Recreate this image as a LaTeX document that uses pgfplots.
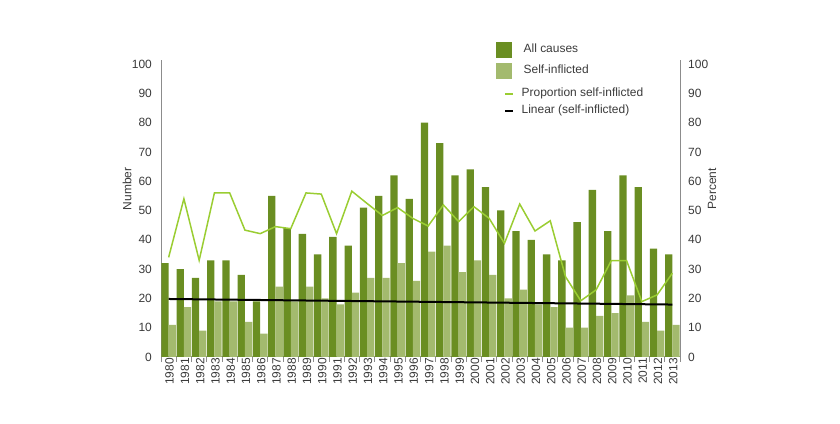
\documentclass[border=0pt]{standalone}
\usepackage{pgfplots}
\pgfplotsset{compat=1.18}
\usepackage{fontspec}
\setmainfont{Liberation Sans}
\definecolor{darkbar}{HTML}{6A8E22}
\definecolor{lightbar}{HTML}{A3BA6E}
\definecolor{propline}{HTML}{9ACD32}
\definecolor{txt}{HTML}{3A3A3A}
\definecolor{axgray}{HTML}{8C8C8C}
\pgfplotsset{
  sqleg/.style={legend image code/.code={\fill[##1] (0bp,-8bp) rectangle (16bp,8bp);}},
  lnlegA/.style={legend image code/.code={\path[draw=none,fill=none] (0bp,-4bp) (0bp,10bp); \draw[##1,line width=1.3bp] (9bp,0bp) -- (17bp,0bp);}},
  lnlegB/.style={legend image code/.code={\path[draw=none,fill=none] (0bp,0bp); \draw[##1,line width=1.3bp] (9bp,0bp) -- (17bp,0bp);}},
}
\begin{document}
\begin{tikzpicture}
\useasboundingbox (0,0) rectangle (840bp,424bp);
\begin{axis}[
  at={(161bp,67bp)}, anchor=south west,
  scale only axis, width=519bp, height=297.4bp,
  xmin=-0.5, xmax=33.5, ymin=0, ymax=101.5,
  axis x line*=bottom, axis y line*=left,
  axis line style={axgray, line width=1bp, -},
  ybar=0pt, bar width=7.3bp,
  xtick={0,...,33},
  xticklabels={1980,1981,1982,1983,1984,1985,1986,1987,1988,1989,1990,1991,1992,1993,1994,1995,1996,1997,1998,1999,2000,2001,2002,2003,2004,2005,2006,2007,2008,2009,2010,2011,2012,2013},
  minor xtick={-0.5,0.5,...,33.5},
  major tick length=0pt, minor tick length=5bp,
  tick align=outside,
  minor tick style={axgray, line width=0.8bp},
  ytick={0,10,...,100}, ytick style={draw=none},
  xticklabel style={rotate=90, anchor=east, font=\fontsize{12}{14}\selectfont, text=txt, inner sep=1bp, yshift=-1bp},
  yticklabel style={font=\fontsize{12}{14}\selectfont, text=txt, inner sep=0pt, xshift=-9bp},
  /pgf/number format/assume math mode=true,
  ylabel={Number},
  ylabel style={at={(axis description cs:-0.0655,0.565)}, anchor=center, rotate=0, font=\fontsize{12}{14}\selectfont, text=txt},
  legend style={at={(axis description cs:0.6455,1.0595)}, anchor=north west, draw=none, fill=none,
    inner sep=0pt, outer sep=0pt, row sep=5bp, font=\fontsize{12}{14}\selectfont, text=txt,
    nodes={inner sep=0pt, text depth=3bp, text height=9bp, text=txt}},
  legend cell align=left,
  clip=false,
]
\addplot[fill=darkbar, draw=none, sqleg] coordinates {
(0,32)(1,30)(2,27)(3,33)(4,33)(5,28)(6,19)(7,55)(8,44)(9,42)(10,35)(11,41)(12,38)(13,51)(14,55)(15,62)(16,54)(17,80)(18,73)(19,62)(20,64)(21,58)(22,50)(23,43)(24,40)(25,35)(26,33)(27,46)(28,57)(29,43)(30,62)(31,58)(32,37)(33,35)};
\addlegendentry{\hspace{10bp}All causes}
\addplot[fill=lightbar, draw=none, sqleg] coordinates {
(0,11)(1,17)(2,9)(3,19)(4,19)(5,12)(6,8)(7,24)(8,19)(9,24)(10,20)(11,18)(12,22)(13,27)(14,27)(15,32)(16,26)(17,36)(18,38)(19,29)(20,33)(21,28)(22,20)(23,23)(24,18)(25,17)(26,10)(27,10)(28,14)(29,15)(30,21)(31,12)(32,9)(33,11)};
\addlegendentry{\hspace{10bp}Self-inflicted}
\addplot[sharp plot, propline, line width=1.5bp, lnlegA] coordinates {
(0,34)(1,54)(2,33)(3,56)(4,56)(5,43.3)(6,42.1)(7,44.5)(8,43.8)(9,56)(10,55.6)(11,42.1)(12,56.6)(13,52.4)(14,48.3)(15,51)(16,47.3)(17,44.7)(18,51.9)(19,46.2)(20,51.3)(21,47.3)(22,38.8)(23,52.2)(24,43)(25,46.5)(26,27.4)(27,19.2)(28,22.9)(29,32.9)(30,32.9)(31,18.9)(32,21.2)(33,28.6)};
\addlegendentry{\hspace{8bp}Proportion self-inflicted}
\addplot[sharp plot, black, line width=2bp, lnlegB] coordinates {(0,19.8)(33,17.9)};
\addlegendentry{\hspace{8bp}Linear (self-inflicted)}
\end{axis}
\begin{axis}[
  at={(161bp,67bp)}, anchor=south west,
  scale only axis, width=519bp, height=297.4bp,
  xmin=-0.5, xmax=33.5, ymin=0, ymax=101.5,
  axis x line=none, axis y line*=right,
  axis line style={axgray, line width=1bp, -},
  ytick={0,10,...,100}, ytick style={draw=none},
  yticklabel style={font=\fontsize{12}{14}\selectfont, text=txt, inner sep=0pt, xshift=8bp},
  /pgf/number format/assume math mode=true,
  ylabel={Percent},
  ylabel style={at={(axis description cs:1.0617,0.565)}, anchor=center, rotate=0, font=\fontsize{12}{14}\selectfont, text=txt},
]
\end{axis}
\end{tikzpicture}
\end{document}
